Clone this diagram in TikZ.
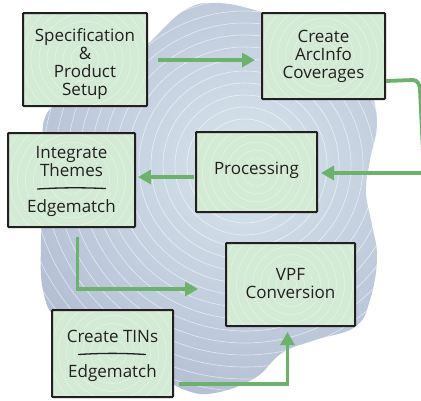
\documentclass[tikz,border=0pt]{standalone}
\usepackage{fontspec}
\setmainfont{Open Sans}
\usetikzlibrary{arrows.meta,calc}

\definecolor{blobin}{RGB}{216,229,236}
\definecolor{blobout}{RGB}{178,189,211}
\definecolor{boxfill}{RGB}{211,234,213}
\definecolor{flow}{RGB}{108,178,108}
\definecolor{ink}{RGB}{35,31,32}

\tikzset{
  stagebox/.style={draw=ink, line width=2pt, fill=boxfill, inner sep=0pt,
    rounded corners=0.8pt,
    path picture={
      \foreach \r in {6,14,...,110}
        \draw[white, opacity=.45, line width=.5pt]
          (path picture bounding box.center) circle (\r);
    }},
  stagetext/.style={align=center, text=ink, inner sep=0pt,
    font=\fontsize{17}{18}\selectfont},
  flowarrow/.style={draw=flow, line width=3.8pt,
    -{Triangle[length=13pt,width=14pt]}},
  divider/.style={draw=ink, line width=1.3pt, line cap=round},
  ring/.style={draw=white, opacity=.6, line width=.6pt},
}

\begin{document}
\begin{tikzpicture}[x=1pt,y=-1pt]
\useasboundingbox (0,0) rectangle (421,400);
\clip (0,0) rectangle (421,400);

% backdrop blob with concentric rings
\begin{scope}
  \clip plot[smooth cycle, tension=0.7] coordinates {
    (150,42) (185,10) (218,3) (262,12) (310,28) (345,50) (368,85)
    (377,122) (370,160) (366,192) (372,225) (377,258) (370,300)
    (355,327) (315,340) (282,353) (255,378) (215,393) (185,390)
    (150,370) (100,345) (58,320) (43,290) (41,240) (44,170)
    (46,115) (80,95) (120,70)};
  \shade[inner color=blobin, outer color=blobout] (245,165) circle (250);
  \foreach \r in {10,22,...,260}
    \draw[ring] (245,165) circle (\r);
\end{scope}

% stage boxes
\node[stagebox, minimum width=124pt, minimum height=93pt] (spec) at (85,59.5) {};
\node[stagebox, minimum width=123pt, minimum height=86pt] (arc) at (323.5,56) {};
\node[stagebox, minimum width=121pt, minimum height=80pt] (proc) at (256.5,172) {};
\node[stagebox, minimum width=127pt, minimum height=94pt] (integ) at (71.5,180) {};
\node[stagebox, minimum width=129pt, minimum height=83pt] (vpf) at (290.5,284.5) {};
\node[stagebox, minimum width=121pt, minimum height=87pt] (tins) at (112.5,353.5) {};

% stage labels
\node[stagetext] (spec-label) at ($(spec.center)+(0,4.5)$)
  {Specification\\\&\\Product\\Setup};
\node[stagetext] (arc-label) at ($(arc.center)+(0,0)$)
  {Create\\ArcInfo\\Coverages};
\node[stagetext] (proc-label) at ($(proc.center)+(0,-2)$) {Processing};
\node[stagetext] (integ-label) at ($(integ.center)+(0,1)$)
  {Integrate\\Themes\\[18pt]Edgematch};
\node[stagetext] (vpf-label) at ($(vpf.center)+(0,-1)$) {VPF\\Conversion};
\node[stagetext] (tins-label) at ($(tins.center)+(0,2)$)
  {Create TINs\\[17pt]Edgematch};

% dividers inside the two-part boxes
\draw[divider] ($(integ.center)+(-34,9)$) .. controls ($(integ.center)+(-10,7.5)$) and ($(integ.center)+(10,7.5)$) .. ($(integ.center)+(34,8.5)$);
\draw[divider] ($(tins.center)+(-34,1)$) .. controls ($(tins.center)+(-10,-0.5)$) and ($(tins.center)+(10,-0.5)$) .. ($(tins.center)+(33,1)$);

% flow connectors
\coordinate (rightturn) at (420,90);
\coordinate (rightlow) at (424,173);
\draw[flowarrow] ($(spec.east)+(10,0.5)$) -- ($(arc.west)+(-6,4)$);
\draw[flowarrow] ($(arc.south east)+(0,-19)$) -- (413,80)
  to[out=0,in=90] (rightturn) -- (rightlow) -- ($(proc.east)+(3,1)$);
\draw[flowarrow] ($(proc.west)+(-1,5)$) -- ($(integ.east)+(2,-3)$);
\coordinate (vpfin) at ($(vpf.west)+(-27,4.5)$);
\draw[flowarrow] ($(integ.south)+(6,9)$) |- (vpfin);
\draw[flowarrow] ($(tins.south east)+(5,-14)$) -| ($(vpf.south)+(-3,5)$);
\end{tikzpicture}
\end{document}
